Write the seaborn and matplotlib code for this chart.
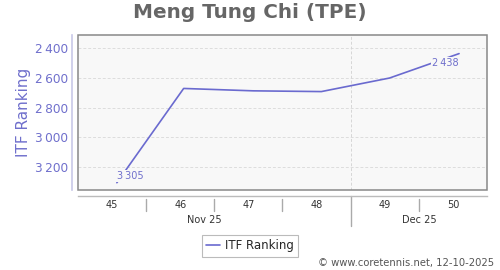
import matplotlib
matplotlib.use("Agg")
import matplotlib.pyplot as plt
import matplotlib.transforms as mtransforms
from matplotlib.ticker import FuncFormatter
from matplotlib.lines import Line2D
import seaborn as sns
import pandas as pd

# Data
weeks = [45.07, 46.05, 47.07, 48.07, 49.07, 50.09]
ranking = [3305, 2672, 2688, 2693, 2602, 2438]
week_ticks = [45, 46, 47, 48, 49, 50]
week_labels = ["45", "46", "47", "48", "49", "50"]
months = ["Nov 25", "Dec 25"]
month_label_pos = [46.35, 49.5]
month_boundary = 48.5
y_ticks = [2400, 2600, 2800, 3000, 3200]

sns.set_theme(style="white")
plt.rcParams['font.family'] = ['DejaVu Sans']

LINE = "#6a6acf"
PURPLE = "#6f6fcc"

df = pd.DataFrame({"week": weeks, "rank": ranking})

fig = plt.figure(figsize=(5, 2.7), dpi=100)
ax = fig.add_axes([78/500, 1-190/270, (487-78)/500, (190-35)/270])
ax.set_facecolor("#f8f8f8")

sns.lineplot(data=df, x="week", y="rank", ax=ax, color=LINE, linewidth=1.2,
             label="ITF Ranking", legend=False)

ax.set_xlim(44.5, 50.5)
ax.set_ylim(3354, 2313)

# grid
ax.set_yticks(y_ticks)
ax.yaxis.set_major_formatter(FuncFormatter(lambda v, p: f"{int(v):,}".replace(",", "\u2009")))
for v in y_ticks:
    ax.axhline(v, color="#dddddd", lw=0.7, ls=(0, (3, 2)), zorder=0)
ax.axvline(month_boundary, color="#d6d6d6", lw=0.7, ls=(0, (3, 2)), zorder=0)

# frame
for s in ["top", "right"]:
    ax.spines[s].set_visible(False)
border = plt.Rectangle((0, 0), 1, 1, transform=ax.transAxes, fill=False,
                       edgecolor="#888888", lw=1.1, zorder=5, clip_on=False)
ax.add_patch(border)
ax.spines["left"].set_position(("outward", 4))
ax.spines["left"].set_color("#c8c8e8")
ax.spines["left"].set_linewidth(1.2)
ax.spines["bottom"].set_position(("outward", 4))
ax.spines["bottom"].set_color("#bbbbbb")
ax.spines["bottom"].set_linewidth(1.0)

ax.tick_params(axis="y", length=0, pad=3, labelsize=8.7, labelcolor=PURPLE)
ax.set_xticks(week_ticks)
ax.set_xticklabels(week_labels)
ax.tick_params(axis="x", length=0, pad=3, labelsize=7, labelcolor="#333333")
ax.set_xlabel("")
ax.set_ylabel("ITF Ranking", color=PURPLE, fontsize=11, labelpad=3)

# separators below axis
trans = mtransforms.blended_transform_factory(ax.transData, ax.transAxes)
seps = [w + 0.5 for w in week_ticks[:-1]]
for s in seps:
    if s == month_boundary:
        ax.plot([s, s], [-0.04, -0.235], transform=trans, color="#aaaaaa", lw=1.0, clip_on=False)
    else:
        ax.plot([s, s], [-0.06, -0.135], transform=trans, color="#aaaaaa", lw=1.0, clip_on=False)
for m, xm in zip(months, month_label_pos):
    ax.text(xm, -0.195, m, transform=trans, ha="center", va="center", fontsize=7, color="#333333")

# point labels
bb = dict(boxstyle="square,pad=0.1", facecolor="#f8f8f8", edgecolor="none")
ax.annotate(f"{ranking[0]:,}".replace(",", "\u2009"), (weeks[0], ranking[0]),
            xytext=(9.5, 4.5), textcoords="offset points", ha="center", va="center",
            fontsize=7, color=PURPLE, bbox=bb, zorder=4)
ax.annotate(f"{ranking[-1]:,}".replace(",", "\u2009"), (weeks[-1], ranking[-1]),
            xytext=(-10, -7), textcoords="offset points", ha="center", va="center",
            fontsize=7, color=PURPLE, bbox=bb, zorder=4)

fig.text(0.5, 1-13/270, "Meng Tung Chi (TPE)", ha="center", va="center",
         fontsize=14.4, fontweight="bold", color="#666666")

h = [Line2D([], [], color=LINE, lw=1.2)]
leg = fig.legend(h, ["ITF Ranking"], loc="center", bbox_to_anchor=(250/500, 1-246/270),
                 fontsize=8.5, frameon=True, fancybox=False, handlelength=1.2,
                 handletextpad=0.4, borderpad=0.35, borderaxespad=0)
leg.get_frame().set_edgecolor("#aaaaaa")
leg.get_frame().set_linewidth(0.8)

fig.text(494/500, 1-263/270, "\u00a9 www.coretennis.net, 12-10-2025", ha="right", va="center",
         fontsize=7.2, color="#555555")

fig.savefig("out.png", dpi=100)
